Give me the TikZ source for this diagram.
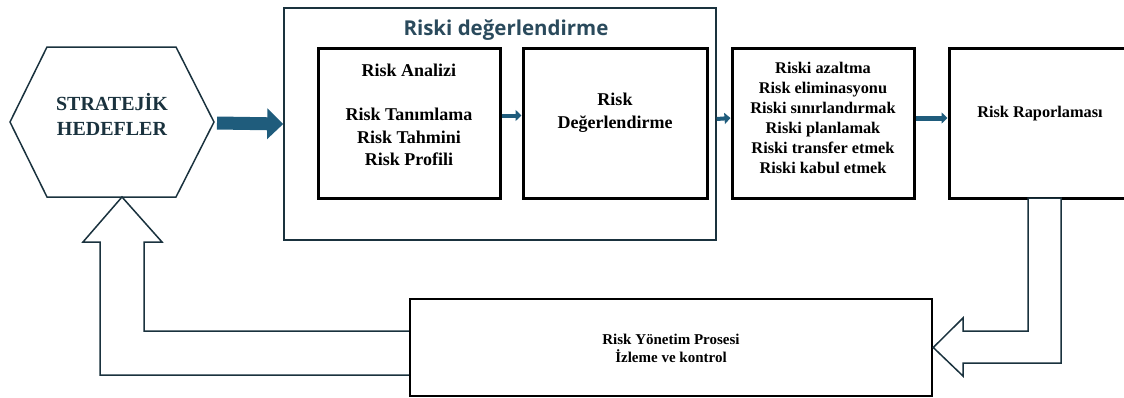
\documentclass[tikz,border=0pt]{standalone}
\usepackage{fontspec}
\setmainfont{Liberation Serif}
\newfontfamily\titlefont{Open Sans}
\usepackage{xcolor}
\usetikzlibrary{arrows.meta}
\definecolor{arrowblue}{RGB}{31,92,124}
\definecolor{darkline}{RGB}{26,50,62}
\definecolor{titleteal}{RGB}{42,74,92}

\begin{document}
\begin{tikzpicture}[x=1pt,y=-1pt,
  box/.style={draw=black,line width=3pt,minimum width=182pt,minimum height=150pt},
  txt/.style={align=center,font=\fontsize{18}{22.5}\selectfont\bfseries},
  smalltxt/.style={align=center,font=\fontsize{16.3}{20}\selectfont\bfseries},
  bigarrow/.style={arrowblue,line width=13pt,-{Triangle[length=16pt,width=30pt]}},
  smallarrow/.style={arrowblue,line width=4pt,-{Triangle[length=6pt,width=11pt]}},
  hollow/.style={draw=darkline,line width=1.5pt,fill=white}]

\useasboundingbox (0,0) rectangle (1124,397);

% hexagon
\draw[darkline,line width=1.5pt] (10,122) -- (47,47) -- (176,47) -- (214,122) -- (176,197) -- (47,197) -- cycle;
\coordinate (hexE) at (217,123);
\coordinate (hexS) at (122,197);
\node[align=center,text=darkline,font=\fontsize{20}{25}\selectfont\bfseries] (hedef) at (112,114) {STRATEJİK\\HEDEFLER};

% risk assessment group
\node[draw=darkline,line width=1.5pt,minimum width=432pt,minimum height=232pt] (degerlendirme) at (500,124) {};
\node[text=titleteal,font=\titlefont\bfseries\fontsize{20.5}{25}\selectfont] (baslik) at (506,30) {Riski değerlendirme};

\node[box] (analiz) at (409,123.5) {};
\node[txt] (analiz-t) at (409,115) {Risk Analizi\\[22pt]Risk Tanımlama\\Risk Tahmini\\Risk Profili};
\node[box,minimum width=184pt] (degbox) at (615,123.5) {};
\node[txt] (degbox-t) at (615,112.5) {Risk\\Değerlendirme};

\node[box] (onlem) at (823,123) {};
\node[smalltxt] (onlem-t) at (823,118) {Riski azaltma\\Risk eliminasyonu\\Riski sınırlandırmak\\Riski planlamak\\Riski transfer etmek\\Riski kabul etmek};
\node[box] (rapor) at (1040,123) {};
\node[smalltxt] (rapor-t) at (1040,114) {Risk Raporlaması};

\node[draw=black,line width=2.5pt,minimum width=522pt,minimum height=97pt] (izleme) at (671,347.5) {};
\node[align=center,font=\fontsize{15}{17.5}\selectfont\bfseries] (izleme-t) at (671,348.5) {Risk Yönetim Prosesi\\İzleme ve kontrol};

% arrows
\draw[bigarrow] (hexE) -- (degerlendirme.west);
\draw[smallarrow] ([yshift=8pt]analiz.east) -- ([yshift=8pt]degbox.west);
\draw[smallarrow] ([yshift=5pt]degerlendirme.east) -- ([yshift=5pt]onlem.west);
\draw[smallarrow,line width=5pt] ([yshift=5pt]onlem.east) -- ([yshift=5pt]rapor.west);

% hollow feedback arrows
\draw[hollow] (1028,198) -- (1028,331) -- (963,331) -- (963,318) -- (izleme.east) -- (963,376) -- (963,363) -- (1061,363) -- (1061,198) -- cycle;
\draw[hollow] (izleme.west |- 0,331) -- (144,331) -- (144,242) -- (162,242) -- (hexS) -- (83,242) -- (100,242) -- (100,375) -- (izleme.west |- 0,375);
\end{tikzpicture}
\end{document}
